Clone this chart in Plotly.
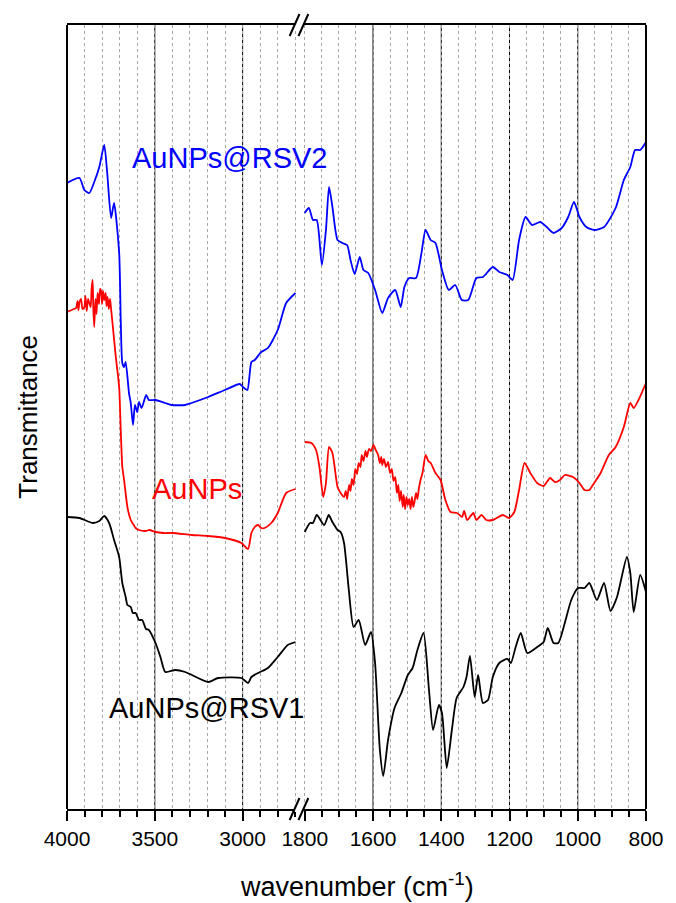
import plotly.graph_objects as go

# ---------------- data ----------------
# left panel: 4000 - 2700 cm-1 ; right panel: 1800 - 800 cm-1 ; y = transmittance (a.u.)
rsv2_left_wn = [4000, 3929, 3901, 3873, 3845, 3816, 3788, 3771, 3749, 3732, 3703, 3694, 3685, 3675, 3666,
                3647, 3637, 3624, 3613, 3600, 3590, 3575, 3549, 3534, 3496, 3440, 3404, 3327, 3291, 3196,
                3101, 3016, 2998, 2973, 2950, 2931, 2894, 2856, 2800, 2752, 2699]
rsv2_left_t = [62.6, 63.1, 61.9, 61.6, 62.7, 64.2, 66.4, 63.6, 59.1, 60.6, 55.6, 48.9, 44.6, 44.2, 44.7,
               41.6, 40.6, 38.4, 40.4, 39.7, 40.7, 40.1, 41.4, 40.9, 40.9, 40.6, 40.4, 40.4, 40.6, 41.2,
               41.9, 42.5, 42.2, 41.9, 44.7, 44.9, 45.7, 46.1, 47.9, 50.6, 51.6]

aunp_left_wn = [4000, 3960, 3948, 3940, 3935, 3929, 3920, 3912, 3901, 3895, 3888, 3880, 3873, 3865, 3860,
                3854, 3850, 3845, 3838, 3832, 3826, 3818, 3812, 3807, 3800, 3795, 3788, 3780, 3775, 3769,
                3762, 3755, 3750, 3741, 3722, 3703, 3694, 3685, 3675, 3656, 3637, 3620, 3609, 3590, 3553,
                3530, 3496, 3450, 3400, 3289, 3200, 3101, 3007, 2969, 2950, 2931, 2912, 2894, 2875, 2837,
                2800, 2752, 2699]
aunp_left_t = [49.7, 50.0, 50.1, 50.8, 49.9, 50.7, 51.0, 50.0, 50.2, 51.3, 49.8, 51.0, 50.6, 50.2, 52.0,
               52.9, 50.0, 48.2, 51.0, 49.5, 51.6, 50.5, 52.0, 51.9, 50.5, 51.8, 50.9, 51.6, 50.3, 51.2,
               50.0, 51.0, 50.2, 48.6, 45.2, 42.2, 37.9, 34.2, 32.9, 30.2, 28.9, 28.4, 28.1, 27.9, 27.8,
               27.9, 27.7, 27.6, 27.6, 27.4, 27.3, 27.1, 26.6, 26.0, 27.6, 28.2, 28.4, 28.1, 28.1, 28.6,
               29.6, 31.6, 32.0]

rsv1_left_wn = [4000, 3929, 3854, 3816, 3788, 3760, 3732, 3703, 3685, 3666, 3656, 3637, 3625, 3609, 3590,
                3572, 3550, 3534, 3496, 3468, 3440, 3383, 3327, 3289, 3196, 3139, 3007, 2969, 2950, 2912,
                2856, 2800, 2743, 2699]
rsv1_left_t = [29.2, 29.1, 28.6, 28.8, 29.3, 28.6, 26.9, 25.2, 22.6, 21.2, 20.4, 20.2, 19.6, 19.6, 18.9,
               18.9, 18.0, 17.9, 16.6, 15.2, 13.7, 13.9, 13.7, 13.4, 12.7, 13.1, 13.1, 12.6, 13.2, 13.6,
               14.1, 15.2, 16.4, 16.7]

rsv2_right_wn = [1800, 1788, 1776, 1765, 1750, 1738, 1729, 1719, 1704, 1690, 1676, 1666, 1654, 1639, 1628,
                 1614, 1594, 1573, 1556, 1535, 1519, 1508, 1494, 1474, 1458, 1446, 1431, 1417, 1398, 1378,
                 1359, 1340, 1321, 1297, 1278, 1249, 1230, 1206, 1191, 1172, 1153, 1134, 1110, 1091, 1071,
                 1047, 1028, 1011, 995, 975, 952, 923, 889, 865, 846, 832, 817, 800]
rsv2_right_t = [59.6, 60.1, 58.9, 58.9, 54.4, 57.9, 62.2, 60.2, 56.9, 56.6, 56.4, 54.9, 53.5, 55.2, 53.9,
                53.6, 51.9, 49.6, 51.1, 51.9, 50.2, 52.2, 53.1, 53.1, 55.6, 57.9, 56.9, 56.6, 53.9, 51.9,
                52.4, 50.9, 50.9, 53.1, 53.2, 54.2, 53.7, 53.4, 52.9, 56.9, 59.2, 58.4, 58.7, 58.2, 57.6,
                58.1, 59.2, 60.7, 59.2, 58.2, 57.9, 58.2, 60.1, 62.9, 64.2, 65.9, 65.9, 66.7]

aunp_right_wn = [1800, 1781, 1767, 1757, 1746, 1738, 1729, 1719, 1704, 1695, 1685, 1680, 1676, 1670, 1666,
                 1662, 1657, 1652, 1647, 1642, 1637, 1633, 1628, 1622, 1618, 1612, 1606, 1599, 1592, 1585,
                 1580, 1576, 1573, 1568, 1562, 1556, 1550, 1545, 1540, 1535, 1530, 1526, 1522, 1518, 1513,
                 1510, 1506, 1502, 1498, 1494, 1490, 1486, 1482, 1479, 1474, 1470, 1465, 1460, 1455, 1446,
                 1438, 1431, 1417, 1402, 1388, 1373, 1354, 1339, 1333, 1324, 1306, 1297, 1282, 1268, 1249,
                 1220, 1201, 1186, 1172, 1156, 1139, 1119, 1100, 1081, 1067, 1052, 1038, 1014, 995, 980,
                 966, 952, 933, 909, 889, 865, 846, 836, 822, 800]
aunp_right_t = [36.7, 36.6, 35.9, 34.2, 31.2, 32.6, 36.2, 35.6, 32.2, 31.6, 31.2, 31.8, 31.0, 32.4, 31.8,
                33.0, 32.4, 34.0, 33.5, 34.6, 34.2, 35.4, 34.8, 35.8, 35.2, 36.0, 35.8, 36.4, 35.9, 35.4,
                34.6, 35.2, 34.4, 35.0, 34.2, 34.7, 33.6, 34.0, 32.8, 33.2, 31.6, 32.4, 30.8, 31.8, 30.2,
                31.4, 30.0, 31.2, 30.4, 31.0, 30.0, 31.2, 30.2, 30.6, 31.6, 31.0, 32.2, 33.0, 33.6, 35.4,
                34.8, 34.6, 33.6, 32.9, 30.9, 29.7, 29.6, 29.2, 29.8, 28.9, 29.6, 28.9, 29.4, 28.9, 28.9,
                29.4, 29.1, 29.7, 31.9, 34.6, 33.6, 32.6, 32.3, 33.1, 32.7, 32.9, 33.4, 33.2, 32.6, 31.9,
                31.9, 32.6, 33.6, 35.4, 36.2, 38.2, 40.6, 40.1, 40.9, 42.6]

rsv1_right_wn = [1800, 1785, 1776, 1765, 1743, 1730, 1719, 1704, 1695, 1685, 1671, 1657, 1642, 1623, 1606,
                 1594, 1580, 1570, 1556, 1537, 1517, 1498, 1484, 1470, 1452, 1436, 1424, 1407, 1398, 1384,
                 1369, 1355, 1335, 1326, 1316, 1302, 1292, 1278, 1263, 1249, 1230, 1206, 1196, 1182, 1167,
                 1148, 1119, 1100, 1088, 1071, 1057, 1038, 1019, 999, 980, 966, 944, 923, 904, 885,
                 856, 846, 836, 817, 800]
rsv1_right_t = [27.7, 28.6, 28.6, 29.4, 28.4, 29.4, 28.7, 27.9, 27.7, 26.6, 21.9, 18.2, 18.9, 16.4, 17.7,
                14.6, 5.9, 3.3, 6.9, 10.1, 11.6, 13.4, 14.1, 15.9, 17.6, 11.9, 7.9, 10.4, 9.6, 4.1,
                7.9, 11.1, 12.2, 13.2, 15.3, 11.2, 13.4, 10.6, 10.9, 13.2, 14.6, 15.0, 14.6, 16.2, 17.6,
                15.6, 16.2, 16.7, 18.1, 16.6, 16.6, 18.6, 20.9, 22.1, 22.1, 22.6, 20.9, 22.6, 19.8, 21.2,
                25.2, 23.6, 19.7, 23.4, 21.7]

left_ticks = [4000, 3500, 3000]
right_ticks = [1800, 1600, 1400, 1200, 1000, 800]
left_grid = [3500, 3000]
right_grid = [1600, 1400, 1200, 1000]

labels = [("AuNPs@RSV2", 3639, 65.1, "#0000ff"),
          ("AuNPs", 3527, 32.0, "#ff0000"),
          ("AuNPs@RSV1", 3770, 10.1, "#000000")]

# ---------------- layout geometry ----------------
# the page body has an 8px default margin, so the figure is drawn 8px smaller
# and all page positions are shifted accordingly
OFF = 8
PAGE_W, PAGE_H = 676, 903
P_LEFT, P_RIGHT, P_TOP, P_BOTTOM = 67, 656, 25, 809   # plot area in page pixels
W, H = PAGE_W - OFF, PAGE_H - OFF
ML, MT = P_LEFT - OFF, P_TOP - OFF
MR = W - (P_RIGHT - OFF)
MB = H - (P_BOTTOM - OFF)
PW, PH = P_RIGHT - P_LEFT, P_BOTTOM - P_TOP
BREAK_PX = 303
dsplit = (BREAK_PX - P_LEFT) / PW
LEFT_RANGE = [4000, 2679]
RIGHT_RANGE = [1817, 800]
YR = [0, 78.4]

def px(x):
    return (x - P_LEFT) / PW

def py(y):
    return (P_BOTTOM - y) / PH

FONT = "Arial, Liberation Sans, sans-serif"

fig = go.Figure()
series = [
    (rsv2_left_wn, rsv2_left_t, rsv2_right_wn, rsv2_right_t, "#0000ff"),
    (aunp_left_wn, aunp_left_t, aunp_right_wn, aunp_right_t, "#ff0000"),
    (rsv1_left_wn, rsv1_left_t, rsv1_right_wn, rsv1_right_t, "#000000"),
]
for lx, ly, rx, ry, col in series:
    fig.add_trace(go.Scatter(x=lx, y=ly, xaxis="x", yaxis="y", mode="lines",
                             line=dict(color=col, width=1.8, shape="spline", smoothing=0.6),
                             showlegend=False, hoverinfo="skip"))
    fig.add_trace(go.Scatter(x=rx, y=ry, xaxis="x2", yaxis="y", mode="lines",
                             line=dict(color=col, width=1.8, shape="spline", smoothing=0.6),
                             showlegend=False, hoverinfo="skip"))

minor_common = dict(ticklen=6, tickwidth=1.5, tickcolor="black", ticks="outside",
                    showgrid=True, gridcolor="#a8a8a8", griddash="dot", gridwidth=1)
axis_common = dict(showline=True, linecolor="black", linewidth=2, mirror=True,
                   ticks="outside", ticklen=10, tickwidth=1.5, tickcolor="black",
                   showgrid=False, zeroline=False,
                   tickfont=dict(family=FONT, size=21, color="black"))

fig.update_layout(
    width=W, height=H,
    margin=dict(l=ML, r=MR, t=MT, b=MB),
    paper_bgcolor="white", plot_bgcolor="white",
    xaxis=dict(domain=[0, dsplit], range=LEFT_RANGE, anchor="y",
               tickvals=left_ticks, ticktext=[str(v) for v in left_ticks],
               minor=dict(dtick=100, tick0=4000, **minor_common), **axis_common),
    xaxis2=dict(domain=[dsplit, 1], range=RIGHT_RANGE, anchor="y",
                tickvals=right_ticks, ticktext=[str(v) for v in right_ticks],
                minor=dict(dtick=50, tick0=800, **minor_common), **axis_common),
    yaxis=dict(range=YR, showgrid=False, zeroline=False, showticklabels=False,
               ticks="", showline=False, fixedrange=True),
)

shapes = []
for v in left_grid:
    shapes.append(dict(type="line", xref="x", yref="paper", x0=v, x1=v, y0=0, y1=1,
                       line=dict(color="black", width=1), layer="between"))
for v in right_grid:
    shapes.append(dict(type="line", xref="x2", yref="paper", x0=v, x1=v, y0=0, y1=1,
                       line=dict(color="black", width=1), layer="between"))
# frame sides
for xx in (0, 1):
    shapes.append(dict(type="line", xref="paper", yref="paper", x0=xx, x1=xx, y0=0, y1=1,
                       line=dict(color="black", width=2)))
# axis break marks
for ybase in (P_TOP, P_BOTTOM):
    shapes.append(dict(type="rect", xref="paper", yref="paper",
                       x0=px(298.5), x1=px(307.5), y0=py(ybase + 3), y1=py(ybase - 3),
                       fillcolor="white", line=dict(width=0)))
    for x0 in (293.5, 302.5):
        shapes.append(dict(type="line", xref="paper", yref="paper",
                           x0=px(x0), y0=py(ybase + 11), x1=px(x0 + 10), y1=py(ybase - 11),
                           line=dict(color="black", width=2)))
fig.update_layout(shapes=shapes)

ann = []
for text, x, y, col in labels:
    ann.append(dict(text=text, x=x, y=y, xref="x", yref="y", xanchor="left", yanchor="middle",
                    showarrow=False, font=dict(family=FONT, size=29, color=col)))
ann.append(dict(text="wavenumber (cm<sup>-1</sup>)", x=0.5, y=py(885), xref="paper", yref="paper",
                xanchor="center", yanchor="middle", showarrow=False,
                font=dict(family=FONT, size=27, color="black")))
ann.append(dict(text="Transmittance", x=px(27), y=0.5, xref="paper", yref="paper",
                xanchor="center", yanchor="middle", textangle=-90, showarrow=False,
                font=dict(family=FONT, size=26, color="black")))
fig.update_layout(annotations=ann)

fig.write_html("out.html")
